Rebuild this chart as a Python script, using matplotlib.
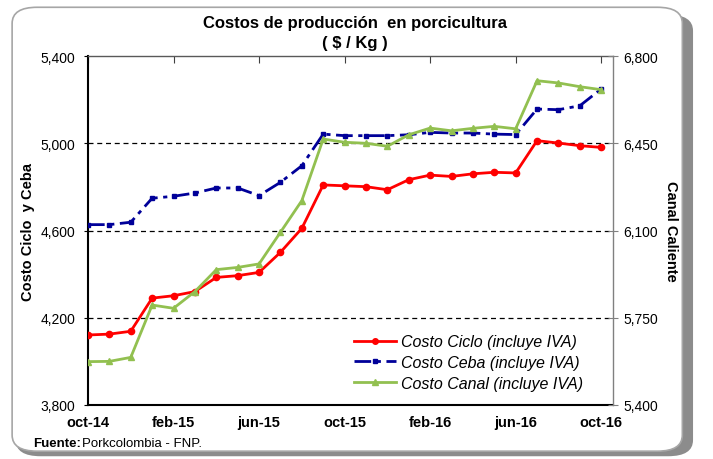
import matplotlib

matplotlib.use("Agg")
import matplotlib.pyplot as plt
from matplotlib.patches import FancyBboxPatch
from matplotlib.lines import Line2D
from matplotlib.ticker import FuncFormatter

plt.rcParams["font.family"] = ["Liberation Sans", "DejaVu Sans"]

# ---- data ------------------------------------------------------------------
MONTHS = ["oct-14", "nov-14", "dic-14", "ene-15", "feb-15", "mar-15", "abr-15",
          "may-15", "jun-15", "jul-15", "ago-15", "sep-15", "oct-15", "nov-15",
          "dic-15", "ene-16", "feb-16", "mar-16", "abr-16", "may-16", "jun-16",
          "jul-16", "ago-16", "sep-16", "oct-16"]
CICLO = [4121, 4125, 4138, 4290, 4301, 4320, 4385, 4393, 4408, 4500, 4610,
         4809, 4805, 4801, 4787, 4833, 4854, 4848, 4860, 4867, 4864, 5012,
         5001, 4989, 4981]
CEBA = [4627, 4627, 4638, 4748, 4757, 4772, 4795, 4795, 4760, 4821, 4897,
        5042, 5035, 5035, 5035, 5039, 5050, 5047, 5047, 5042, 5040, 5157,
        5154, 5172, 5249]
CANAL = [5574, 5575, 5591, 5801, 5788, 5855, 5943, 5952, 5966, 6093, 6220,
         6467, 6454, 6450, 6438, 6484, 6511, 6500, 6510, 6518, 6508, 6701,
         6692, 6677, 6665]
LEFT_TICKS = [3800, 4200, 4600, 5000, 5400]
RIGHT_TICKS = [5400, 5750, 6100, 6450, 6800]

RED = "#FF0000"
BLUE = "#000099"
GREEN = "#92C050"

fig = plt.figure(figsize=(7.13, 4.6), dpi=100, facecolor="white")

# rounded frame with grey drop shadow (behind the axes)
shadow = FancyBboxPatch((0.022, 0.006), 0.95, 0.96,
                        boxstyle="round,pad=0,rounding_size=0.035",
                        transform=fig.transFigure, facecolor="#8c8c8c",
                        edgecolor="none", zorder=-2)
frame = FancyBboxPatch((0.017, 0.017), 0.94, 0.965,
                       boxstyle="round,pad=0,rounding_size=0.035",
                       transform=fig.transFigure, facecolor="white",
                       edgecolor="#a6a6a6", lw=1.2, zorder=-1)
fig.patches.extend([shadow, frame])

ax = fig.add_axes([0.1234, 0.1174, 0.7363, 0.7586])
ax.set_facecolor("none")
x = list(range(len(MONTHS)))

ax.plot(x, CICLO, color=RED, lw=2, marker="o", ms=4.5, zorder=4)
ax.plot(x, CEBA, color=BLUE, lw=2, ls=(0, (6, 2, 1.5, 2)), marker="s", ms=3,
        zorder=3)
ax.set_ylim(3800, 5400)
ax.set_xlim(0, 24.55)
ax.set_yticks(LEFT_TICKS)
ax.yaxis.set_major_formatter(FuncFormatter(lambda v, p: f"{v:,.0f}"))
for g in LEFT_TICKS[1:-1]:
    ax.axhline(g, color="black", lw=0.9, ls=(0, (4, 3)), zorder=1)

ax.set_xticks(range(0, 25, 4))
ax.set_xticklabels(MONTHS[::4], fontweight="bold", fontsize=10.5)
ax.tick_params(axis="x", which="both", bottom=False, top=True, direction="in",
               length=5, color="#404040", pad=7)
ax.tick_params(axis="y", direction="out", length=3, color="black",
               labelsize=10, pad=6)
for s in ("left", "bottom"):
    ax.spines[s].set_color("black")
    ax.spines[s].set_linewidth(1.5)
ax.spines["top"].set_color("#595959")
ax.spines["top"].set_linewidth(1)
ax.spines["right"].set_visible(False)
ax.set_ylabel("Costo Ciclo  y Ceba", fontweight="bold", fontsize=10.5,
              labelpad=4)

ax2 = ax.twinx()
ax2.plot(x, CANAL, color=GREEN, lw=2, marker="^", ms=4.5, zorder=2)
ax2.set_ylim(5400, 6800)
ax2.set_yticks(RIGHT_TICKS)
ax2.yaxis.set_major_formatter(FuncFormatter(lambda v, p: f"{v:,.0f}"))
ax2.tick_params(axis="y", direction="inout", length=7, color="#808080",
                labelsize=10, pad=4)
for s in ("left", "bottom", "top"):
    ax2.spines[s].set_visible(False)
ax2.spines["right"].set_color("#808080")
ax2.spines["right"].set_linewidth(1)
ax2.set_ylabel("Canal Caliente", fontweight="bold", fontsize=10.5,
               rotation=270, labelpad=14)

handles = [
    Line2D([], [], color=RED, lw=2, marker="o", ms=4),
    Line2D([], [], color=BLUE, lw=2, ls=(0, (6, 2, 1.5, 2)), marker="s", ms=3),
    Line2D([], [], color=GREEN, lw=2, marker="^", ms=4),
]
labels = ["Costo Ciclo (incluye IVA)", "Costo Ceba (incluye IVA)",
          "Costo Canal (incluye IVA)"]
leg = ax2.legend(handles, labels, loc="lower left",
                 bbox_to_anchor=(0.48, 0.0), frameon=False,
                 prop={"style": "italic", "size": 11.5}, handlelength=2.6,
                 handletextpad=0.3, labelspacing=0.35)

fig.text(0.498, 0.948, "Costos de producción  en porcicultura",
         ha="center", va="center", fontweight="bold", fontsize=12)
fig.text(0.498, 0.905, "( $ / Kg )", ha="center", va="center",
         fontweight="bold", fontsize=12)
fig.text(0.046, 0.035, "Fuente:", ha="left", va="center",
         fontweight="bold", fontsize=9.5)
fig.text(0.115, 0.035, "Porkcolombia - FNP.", ha="left", va="center",
         fontsize=9.5)

fig.savefig("out.png", dpi=100, facecolor="white")
